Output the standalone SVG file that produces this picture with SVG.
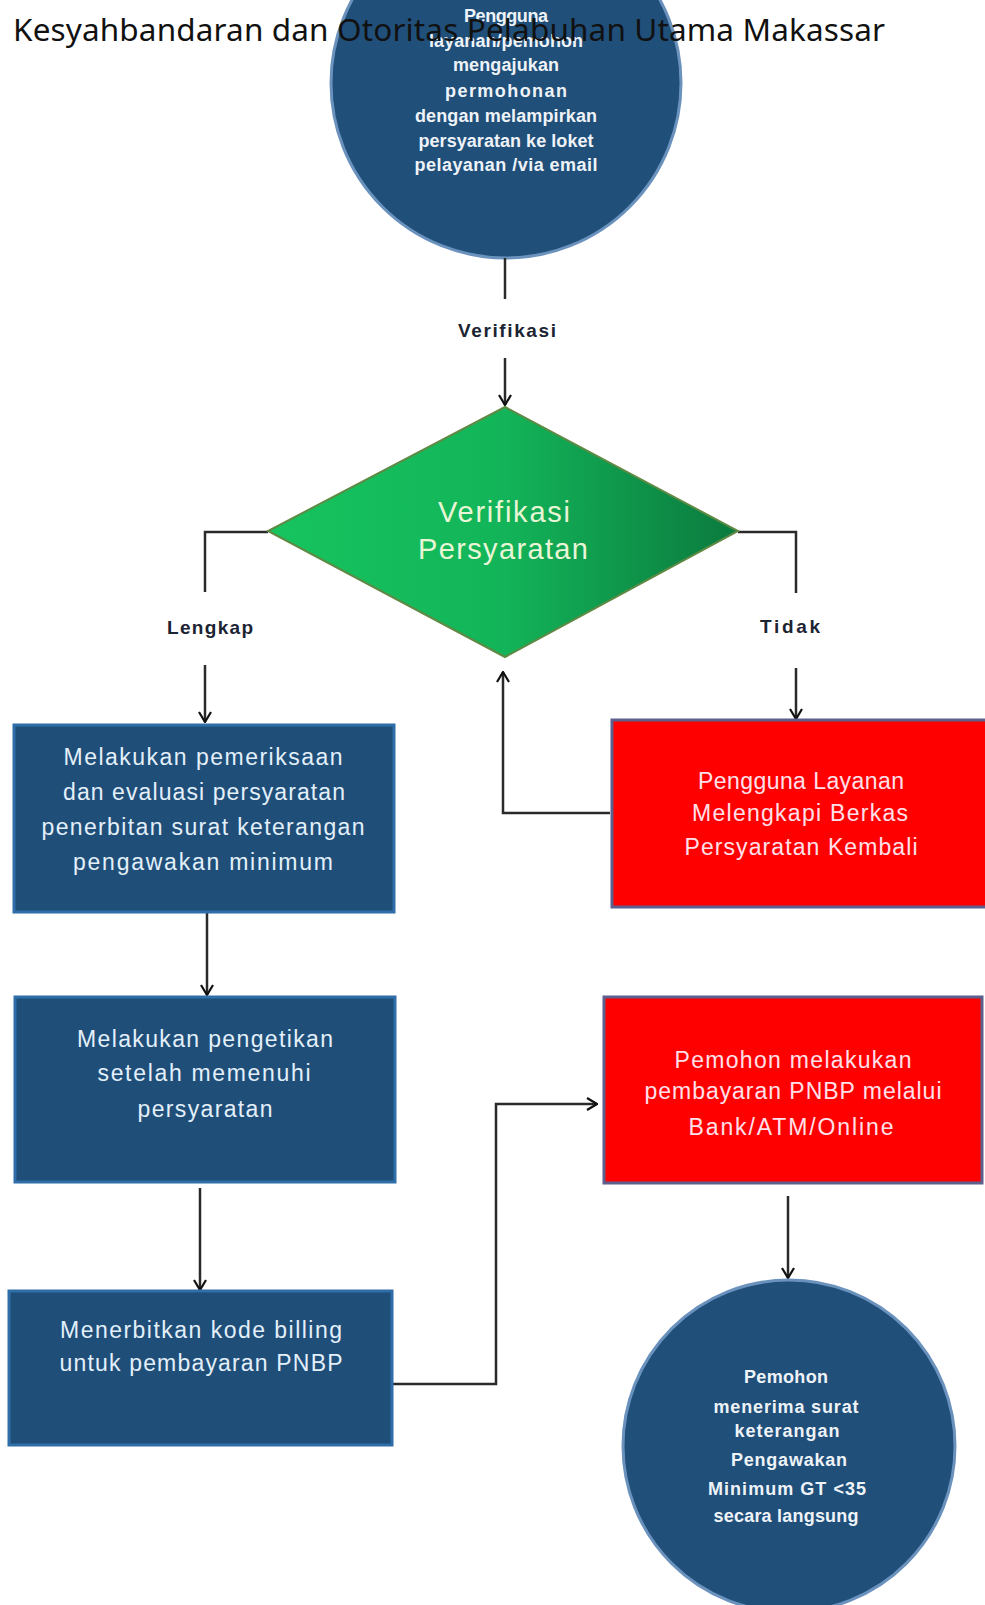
<svg xmlns="http://www.w3.org/2000/svg" width="985" height="1605" viewBox="0 0 985 1605">
<style>
.title{font-family:"Noto Sans","Open Sans",sans-serif;font-size:31.5px;fill:#111}
.ct{font-family:"Liberation Sans",Arial,sans-serif;font-weight:bold;font-size:18px;fill:#eef3f8;text-anchor:middle}
.bt{font-family:"Liberation Sans",Arial,sans-serif;font-size:23px;fill:#e3f0fa;text-anchor:middle}
.rt{font-family:"Liberation Sans",Arial,sans-serif;font-size:23px;fill:#ffe0ea;text-anchor:middle}
.dt{font-family:"Liberation Sans",Arial,sans-serif;font-size:29px;fill:#e8f6d6;text-anchor:middle}
.lbl{font-family:"Liberation Sans",Arial,sans-serif;font-weight:bold;font-size:19px;fill:#1c2433;text-anchor:middle}
.circ{fill:#204f7a;stroke:#6a92bd;stroke-width:3}
.box{fill:#1f4e79;stroke:#2f6ea8;stroke-width:3}
.red{fill:#ff0000;stroke:#5d5f8c;stroke-width:3}
.con{fill:none;stroke:#2a2a2a;stroke-width:2.5}
</style>
<defs>
<linearGradient id="dg" x1="0" y1="0" x2="1" y2="0">
<stop offset="0" stop-color="#16c45e"/>
<stop offset="0.5" stop-color="#13b459"/>
<stop offset="1" stop-color="#0b7a3e"/>
</linearGradient>
<marker id="ah" viewBox="0 0 12 14" refX="11" refY="7" markerWidth="12" markerHeight="14" markerUnits="userSpaceOnUse" orient="auto">
<path d="M1,1 L11,7 L1,13" fill="none" stroke="#111" stroke-width="2.2"/>
</marker>
</defs>

<g id="start">
<circle class="circ" cx="506" cy="83" r="175"/>
<text class="ct" x="506" y="22" textLength="84">Pengguna</text>
<text class="ct" x="506" y="47" textLength="154">layanan/pemohon</text>
<text class="ct" x="506" y="71" textLength="106">mengajukan</text>
<text class="ct" x="506" y="97" textLength="122">permohonan</text>
<text class="ct" x="506" y="122" textLength="182">dengan melampirkan</text>
<text class="ct" x="506" y="147" textLength="175">persyaratan ke loket</text>
<text class="ct" x="506" y="171" textLength="183">pelayanan /via email</text>
</g>

<text class="title" x="13" y="41" textLength="872">Kesyahbandaran dan Otoritas Pelabuhan Utama Makassar</text>

<g id="connectors">
<line class="con" x1="505" y1="258" x2="505" y2="299"/>
<line class="con" x1="505" y1="358" x2="505" y2="405" marker-end="url(#ah)"/>
<polyline class="con" points="268,532 205,532 205,592"/>
<line class="con" x1="205" y1="665" x2="205" y2="722" marker-end="url(#ah)"/>
<polyline class="con" points="738,532 796,532 796,593"/>
<line class="con" x1="796" y1="668" x2="796" y2="719" marker-end="url(#ah)"/>
<polyline class="con" points="610,813 503,813 503,672" marker-end="url(#ah)"/>
<line class="con" x1="207" y1="913" x2="207" y2="995" marker-end="url(#ah)"/>
<line class="con" x1="200" y1="1188" x2="200" y2="1290" marker-end="url(#ah)"/>
<polyline class="con" points="392,1384 496,1384 496,1104 597,1104" marker-end="url(#ah)"/>
<line class="con" x1="788" y1="1196" x2="788" y2="1278" marker-end="url(#ah)"/>
<text class="lbl" x="507" y="337" textLength="98">Verifikasi</text>
<text class="lbl" x="210" y="634" textLength="86">Lengkap</text>
<text class="lbl" x="790" y="633" textLength="60">Tidak</text>
</g>

<g id="decision">
<polygon points="505,407 738,531 505,657 268,531" fill="url(#dg)" stroke="#5f8a45" stroke-width="2"/>
<text class="dt" x="504" y="522" textLength="132">Verifikasi</text>
<text class="dt" x="503" y="559" textLength="170">Persyaratan</text>
</g>

<g id="periksa">
<rect class="box" x="14" y="725" width="380" height="187"/>
<text class="bt" x="203" y="765" textLength="279">Melakukan pemeriksaan</text>
<text class="bt" x="204" y="800" textLength="282">dan evaluasi persyaratan</text>
<text class="bt" x="203" y="835" textLength="323">penerbitan surat keterangan</text>
<text class="bt" x="203" y="870" textLength="260">pengawakan minimum</text>
</g>

<g id="lengkapi">
<rect class="red" x="612" y="720" width="380" height="187"/>
<text class="rt" x="801" y="789" textLength="206">Pengguna Layanan</text>
<text class="rt" x="800" y="821" textLength="216">Melengkapi Berkas</text>
<text class="rt" x="801" y="855" textLength="233">Persyaratan Kembali</text>
</g>

<g id="pengetikan">
<rect class="box" x="15" y="997" width="380" height="185"/>
<text class="bt" x="205" y="1047" textLength="256">Melakukan pengetikan</text>
<text class="bt" x="204" y="1081" textLength="213">setelah memenuhi</text>
<text class="bt" x="205" y="1117" textLength="135">persyaratan</text>
</g>

<g id="bayar">
<rect class="red" x="604" y="997" width="378" height="186"/>
<text class="rt" x="793" y="1068" textLength="237">Pemohon melakukan</text>
<text class="rt" x="793" y="1099" textLength="297">pembayaran PNBP melalui</text>
<text class="rt" x="791" y="1135" textLength="205">Bank/ATM/Online</text>
</g>

<g id="billing">
<rect class="box" x="9" y="1291" width="383" height="154"/>
<text class="bt" x="201" y="1338" textLength="282">Menerbitkan kode billing</text>
<text class="bt" x="201" y="1371" textLength="283">untuk pembayaran PNBP</text>
</g>

<g id="selesai">
<circle class="circ" cx="789" cy="1446" r="166"/>
<text class="ct" x="786" y="1383" textLength="84">Pemohon</text>
<text class="ct" x="786" y="1413" textLength="145">menerima surat</text>
<text class="ct" x="787" y="1437" textLength="105">keterangan</text>
<text class="ct" x="789" y="1466" textLength="116">Pengawakan</text>
<text class="ct" x="787" y="1495" textLength="158">Minimum GT &lt;35</text>
<text class="ct" x="786" y="1522" textLength="145">secara langsung</text>
</g>
</svg>
